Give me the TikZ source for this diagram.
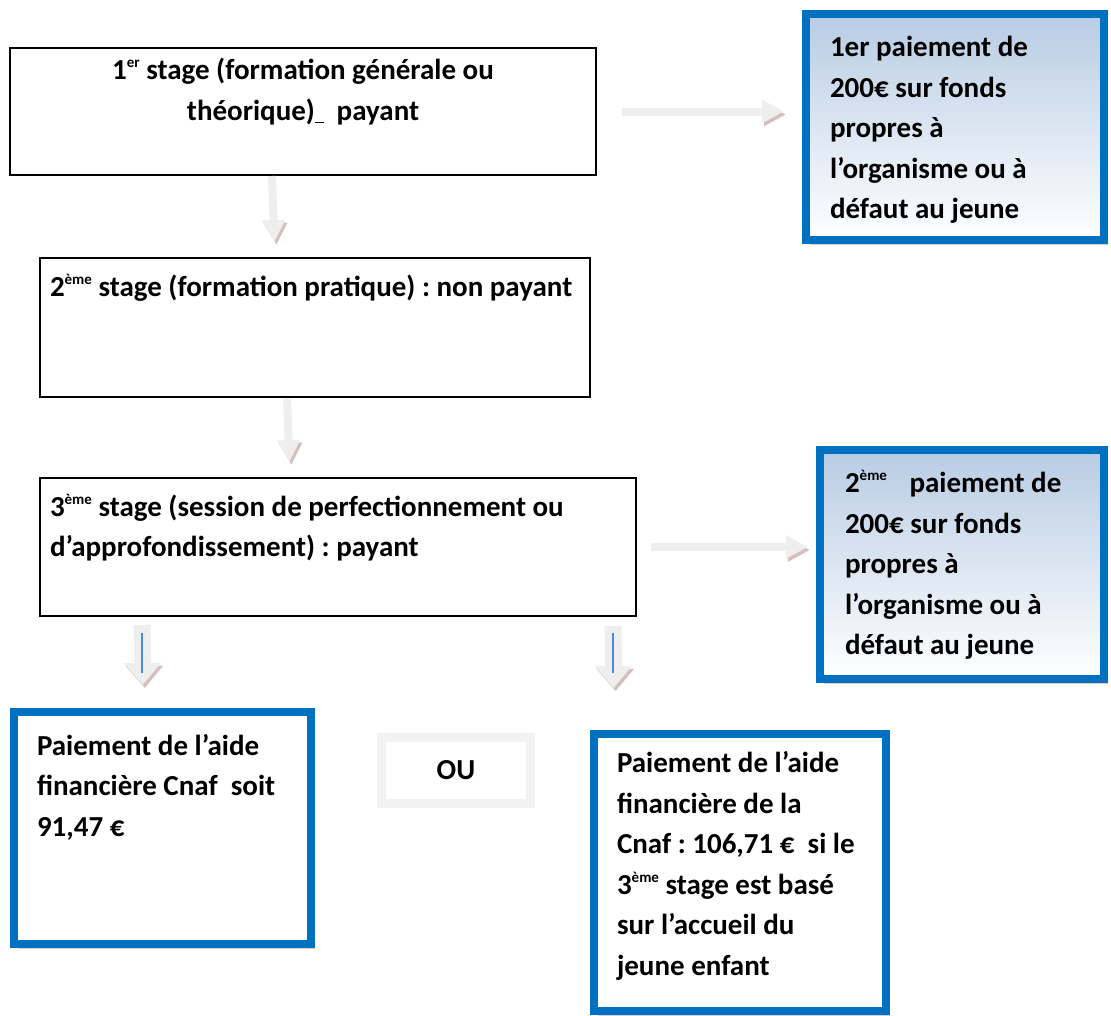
\documentclass[tikz,border=0pt]{standalone}
\usepackage{fontspec}
\setmainfont{Carlito}
\frenchspacing
\usepackage{tikz}
\usetikzlibrary{arrows.meta, shadows}
\definecolor{cadreblue}{RGB}{0,112,192}
\definecolor{fondblue}{RGB}{184,204,228}
\definecolor{ombre}{RGB}{214,190,190}
\definecolor{flechegris}{RGB}{238,238,238}
\definecolor{ougris}{RGB}{242,242,242}
\definecolor{traitblue}{RGB}{70,140,230}
\newcommand{\cadre}[5][l]{\parbox[c][#3][t]{#2}{\vspace*{#4}\makebox[#2][#1]{\begin{tabular}[t]{@{}#1@{}}#5\end{tabular}}}}
\newcommand{\exposant}[1]{\raisebox{0.42em}{\fontsize{15}{15}\selectfont #1}}
\tikzset{
    every node/.style={font=\bfseries\fontsize{29}{40.5}\selectfont},
    stage/.style={draw=black, line width=1.5pt, fill=white, inner ysep=0pt, outer sep=0pt, anchor = north west},
    paiement/.style={draw=cadreblue, line width=8pt, fill=white, inner ysep=0pt, outer sep=0pt, anchor = north west,
        drop shadow={shadow xshift=4pt, shadow yshift=-5pt, fill=ombre, opacity=0.8}},
    degrade/.style={top color=fondblue, bottom color=white},
    fleche/.style={line width=8pt, draw=flechegris, -{Triangle[width=22pt,length=22pt]},
        preaction={draw=ombre, transform canvas={shift={(2pt,-3pt)}}}},
    grossefleche/.style={fleche, line width=17pt, -{Triangle[width=36pt,length=22pt]}},
    trait/.style={draw=traitblue, line width=1.5pt},
}
\begin{document}
\begin{tikzpicture}[x=1pt, y=-1pt]
\useasboundingbox (0,0) rectangle (1111,1015);
\node[stage, inner xsep=10pt] (s1) at (10,48) {\cadre[c]{566pt}{127pt}{3.6pt}{1\exposant{er} stage (formation générale ou\\ théorique)\underline{\hspace{0.3em}}\ \ payant}};
\node[stage, inner xsep=10pt] (s2) at (40,258) {\cadre{530pt}{139pt}{10pt}{2\exposant{ème} stage (formation pratique) : non payant}};
\node[stage, inner xsep=10pt] (s3) at (40,478) {\cadre{576pt}{138pt}{10pt}{3\exposant{ème} stage (session de perfectionnement ou\\ d’approfondissement) : payant}};
\node[paiement, degrade, inner xsep=24pt] (p1) at (806,14) {\cadre{250pt}{226pt}{14.6pt}{1er paiement de\\ 200€ sur fonds\\ propres à\\ l’organisme ou à\\ défaut au jeune}};
\node[paiement, degrade, inner xsep=25pt] (p2) at (820,450) {\cadre{234pt}{229pt}{14.6pt}{2\exposant{ème}\hspace{0.55em} paiement de\\ 200€ sur fonds\\ propres à\\ l’organisme ou à\\ défaut au jeune}};
\node[paiement, inner xsep=23pt] (a1) at (14,712) {\cadre{251pt}{232pt}{15pt}{Paiement de l’aide\\ financière Cnaf\ \ soit\\ 91,47 €}};
\node[paiement, inner xsep=23pt] (a2) at (594,734) {\cadre{246pt}{277pt}{10.6pt}{Paiement de l’aide\\ financière de la\\ Cnaf : 106,71 €\ \ si le\\ 3\exposant{ème} stage est basé\\ sur l’accueil du\\ jeune enfant}};
\node[draw=ougris, line width=9pt, fill=white, minimum width=149pt, minimum height=66pt,
    drop shadow={shadow xshift=3pt, shadow yshift=-4pt, fill=ombre, opacity=0.7}] (ou) at (456,770.5) {OU};
\draw[fleche, shorten <=26pt, shorten >=22pt] (s1.east) -- (s1.east -| p1.west);
\draw[fleche, shorten <=15pt, shorten >=12pt] (s3.east) -- (s3.east -| p2.west);
\draw[fleche, shorten <=1pt, shorten >=16pt] ([xshift=-31pt]s1.south) -- ([xshift=-40pt]s2.north);
\draw[fleche, shorten <=2pt, shorten >=16pt] ([xshift=-28pt]s2.south) -- ([xshift=-48pt]s3.north);
\draw[grossefleche, shorten <=9pt, shorten >=27pt] ([xshift=-196pt]s3.south) -- ([xshift=-19.5pt]a1.north);
\draw[grossefleche, shorten <=10pt, shorten >=46pt] ([xshift=275pt]s3.south) -- ([xshift=-126pt]a2.north);
\draw[trait] ([xshift=-196pt, yshift=-17pt]s3.south) -- ([xshift=-196pt, yshift=-57pt]s3.south);
\draw[trait] ([xshift=275pt, yshift=-17pt]s3.south) -- ([xshift=275pt, yshift=-57pt]s3.south);
\end{tikzpicture}
\end{document}
